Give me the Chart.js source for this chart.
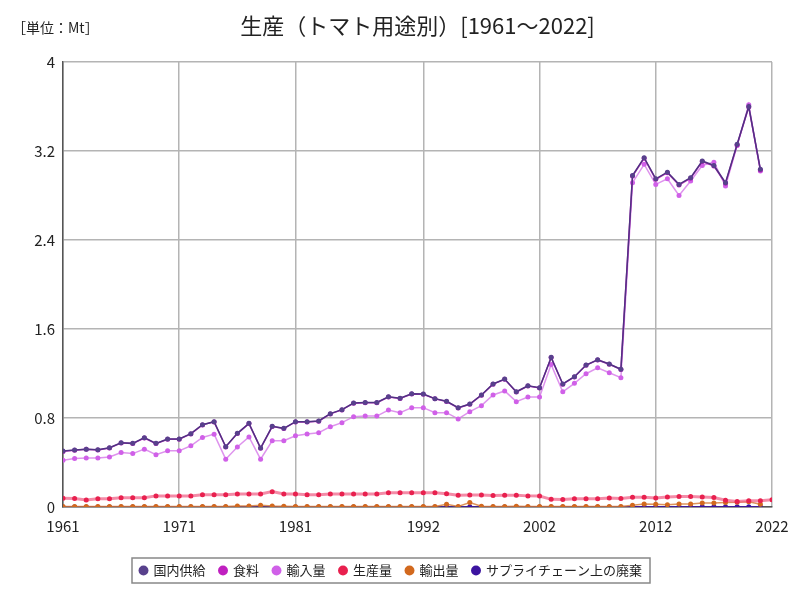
<!DOCTYPE html>
<html>
<head>
<meta charset="utf-8">
<script src="https://cdn.jsdelivr.net/npm/chart.js@4"></script>
<style>
  body { margin: 0; background: #fff; }
  #wrap { width: 800px; height: 600px; }
</style>
</head>
<body>
<div id="wrap"><canvas id="c"></canvas></div>
<script>
const years = [1961,1962,1963,1964,1965,1966,1967,1968,1969,1970,1971,1972,1973,1974,1975,1976,1977,1978,1979,1980,
  1981,1982,1983,1984,1985,1986,1987,1988,1989,1990,1991,1992,1993,1994,1995,1996,1997,1998,1999,2000,
  2001,2002,2003,2004,2005,2006,2007,2008,2009,2010,2011,2012,2013,2014,2015,2016,2017,2018,2019,2020,2021,2022];

const domestic = [0.503,0.512,0.52,0.515,0.533,0.578,0.572,0.623,0.572,0.611,0.611,0.659,0.74,0.767,0.542,0.662,0.752,0.53,0.725,0.707,
  0.767,0.767,0.773,0.839,0.875,0.935,0.94,0.94,0.99,0.977,1.018,1.015,0.974,0.95,0.893,0.926,1.007,1.106,1.15,1.036,
  1.09,1.072,1.345,1.106,1.171,1.276,1.324,1.285,1.238,2.98,3.14,2.95,3.01,2.90,2.96,3.11,3.07,2.915,3.26,3.60,3.035,null];

const food = [0.5,0.51,0.518,0.513,0.531,0.576,0.57,0.62,0.57,0.609,0.609,0.657,0.738,0.765,0.54,0.66,0.75,0.528,0.723,0.705,
  0.765,0.765,0.771,0.837,0.873,0.933,0.938,0.938,0.988,0.975,1.016,1.013,0.972,0.948,0.891,0.924,1.005,1.104,1.148,1.034,
  1.088,1.07,1.343,1.104,1.169,1.274,1.322,1.283,1.236,2.975,3.135,2.945,3.005,2.895,2.955,3.105,3.065,2.91,3.255,3.595,3.03,null];

const imports = [0.42,0.435,0.44,0.44,0.45,0.49,0.48,0.52,0.47,0.505,0.505,0.55,0.625,0.655,0.43,0.54,0.63,0.43,0.595,0.595,
  0.64,0.656,0.668,0.722,0.758,0.812,0.817,0.817,0.872,0.848,0.893,0.893,0.848,0.848,0.791,0.857,0.911,1.007,1.043,0.947,
  0.989,0.989,1.28,1.036,1.112,1.198,1.252,1.207,1.162,2.915,3.08,2.90,2.95,2.80,2.93,3.07,3.10,2.885,3.25,3.615,3.02,null];

const production = [0.078,0.077,0.063,0.075,0.075,0.084,0.084,0.084,0.1,0.1,0.1,0.1,0.11,0.11,0.11,0.117,0.117,0.117,0.138,0.117,
  0.117,0.11,0.11,0.117,0.117,0.117,0.117,0.117,0.128,0.128,0.128,0.128,0.128,0.12,0.105,0.108,0.108,0.103,0.106,0.105,
  0.1,0.098,0.069,0.068,0.075,0.075,0.075,0.08,0.077,0.087,0.087,0.08,0.09,0.095,0.095,0.09,0.085,0.06,0.05,0.057,0.057,0.066];

const exportsQ = [0.004,0.004,0.004,0.004,0.004,0.004,0.004,0.004,0.004,0.004,0.004,0.004,0.004,0.004,0.004,0.008,0.01,0.015,0.008,0.006,
  0.004,0.004,0.004,0.004,0.004,0.004,0.004,0.004,0.004,0.004,0.004,0.004,0.004,0.025,0.005,0.04,0.006,0.004,0.004,0.006,
  0.004,0.004,0.004,0.004,0.004,0.004,0.004,0.004,0.004,0.015,0.027,0.024,0.021,0.027,0.027,0.036,0.036,0.04,0.042,0.048,0.024,null];

const waste = [0.001,0.001,0.001,0.001,0.001,0.001,0.001,0.001,0.001,0.001,0.001,0.001,0.001,0.001,0.001,0.001,0.001,0.001,0.001,0.001,
  0.001,0.001,0.001,0.001,0.001,0.001,0.001,0.001,0.001,0.001,0.001,0.001,0.001,0.001,0.001,0.002,0.001,0.001,0.001,0.001,
  0.001,0.001,0.001,0.001,0.001,0.001,0.001,0.001,0.001,0.002,0.002,0.002,0.002,0.002,0.002,0.002,0.002,0.002,0.002,0.002,0.002,null];

const xTicks = [1961, 1971, 1981, 1992, 2002, 2012, 2022];
const yTicks = [0, 0.8, 1.6, 2.4, 3.2, 4];

const FONT = "'Noto Sans CJK JP', 'Noto Sans', sans-serif";
const TITLE = '生産（トマト用途別）[1961～2022]';
const UNIT = '［単位：Mt］';

const toPoints = (vals) => years.map((y, i) => ({ x: y, y: vals[i] }));

const series = [
  { label: '国内供給', data: domestic, line: 'rgba(80,50,130,1)', dot: '#58418c', width: 1.5 },
  { label: '食料', data: food, line: 'rgba(192,32,192,0.9)', dot: '#c020c0', width: 1.5 },
  { label: '輸入量', data: imports, line: 'rgba(214,120,232,0.8)', dot: '#d060e8', width: 1.5 },
  { label: '生産量', data: production, line: 'rgba(240,90,130,0.7)', dot: '#e8204e', width: 3 },
  { label: '輸出量', data: exportsQ, line: 'rgba(214,120,50,0.8)', dot: '#d2691e', width: 1.5 },
  { label: 'サプライチェーン上の廃棄', data: waste, line: 'rgba(60,20,160,0.9)', dot: '#3c14a0', width: 1.5 },
];

// border round the legend items
const legendBorder = {
  id: 'legendBorder',
  afterDraw(chart) {
    const boxes = chart.legend.legendHitBoxes;
    if (!boxes || !boxes.length) return;
    let l = Infinity, r = -Infinity, t = Infinity, b = -Infinity;
    boxes.forEach(h => {
      l = Math.min(l, h.left); r = Math.max(r, h.left + h.width);
      t = Math.min(t, h.top); b = Math.max(b, h.top + h.height);
    });
    const ctx = chart.ctx;
    ctx.save();
    ctx.strokeStyle = '#888';
    ctx.lineWidth = 1.5;
    ctx.strokeRect(l - 8, t - 6, r - l + 16, b - t + 12);
    ctx.restore();
  }
};

// title over the plot area + unit label at the left
const headings = {
  id: 'headings',
  afterDraw(chart) {
    const ctx = chart.ctx;
    const area = chart.chartArea;
    ctx.save();
    ctx.fillStyle = '#222';
    ctx.textBaseline = 'middle';
    ctx.font = '14px ' + FONT;
    ctx.textAlign = 'left';
    ctx.fillText(UNIT, 12, 28);
    ctx.font = '22px ' + FONT;
    ctx.textAlign = 'center';
    ctx.fillText(TITLE, (area.left + area.right) / 2, 26);
    ctx.restore();
  }
};

new Chart(document.getElementById('c'), {
  type: 'line',
  data: {
    datasets: series.map(s => ({
      label: s.label,
      data: toPoints(s.data),
      borderColor: s.line,
      backgroundColor: s.dot,
      pointBackgroundColor: s.dot,
      pointBorderColor: s.dot,
      pointRadius: 2.5,
      pointBorderWidth: 0,
      borderWidth: s.width,
      tension: 0,
      fill: false,
      spanGaps: false,
    })),
  },
  options: {
    responsive: true,
    maintainAspectRatio: false,
    animation: false,
    layout: { padding: { left: 10, right: 28, top: 62, bottom: 13 } },
    plugins: {
      title: { display: false },
      legend: {
        position: 'bottom',
        labels: {
          usePointStyle: true,
          pointStyle: 'circle',
          boxWidth: 7,
          boxHeight: 7,
          padding: 14,
          color: '#222',
          font: { family: FONT, size: 13 },
        },
      },
      tooltip: { enabled: false },
    },
    scales: {
      x: {
        type: 'linear',
        min: 1961,
        max: 2022,
        afterBuildTicks: (axis) => { axis.ticks = xTicks.map(v => ({ value: v })); },
        afterFit: (axis) => { axis.height = 43; },
        ticks: {
          autoSkip: false,
          maxRotation: 0,
          padding: 10,
          color: '#222',
          font: { family: FONT, size: 15 },
          callback: (v) => String(v),
        },
        grid: { color: '#b4b4b4', lineWidth: 1.5, drawTicks: false },
        border: { color: '#555', width: 1.5 },
      },
      y: {
        min: 0,
        max: 4,
        afterBuildTicks: (axis) => { axis.ticks = yTicks.map(v => ({ value: v })); },
        afterFit: (axis) => { axis.width = 53; },
        ticks: {
          color: '#222',
          font: { family: FONT, size: 15 },
          padding: 8,
          callback: (v) => String(v),
        },
        grid: { color: '#b4b4b4', lineWidth: 1.5, drawTicks: false },
        border: { color: '#555', width: 1.5 },
      },
    },
  },
  plugins: [legendBorder, headings],
});
</script>
</body>
</html>
